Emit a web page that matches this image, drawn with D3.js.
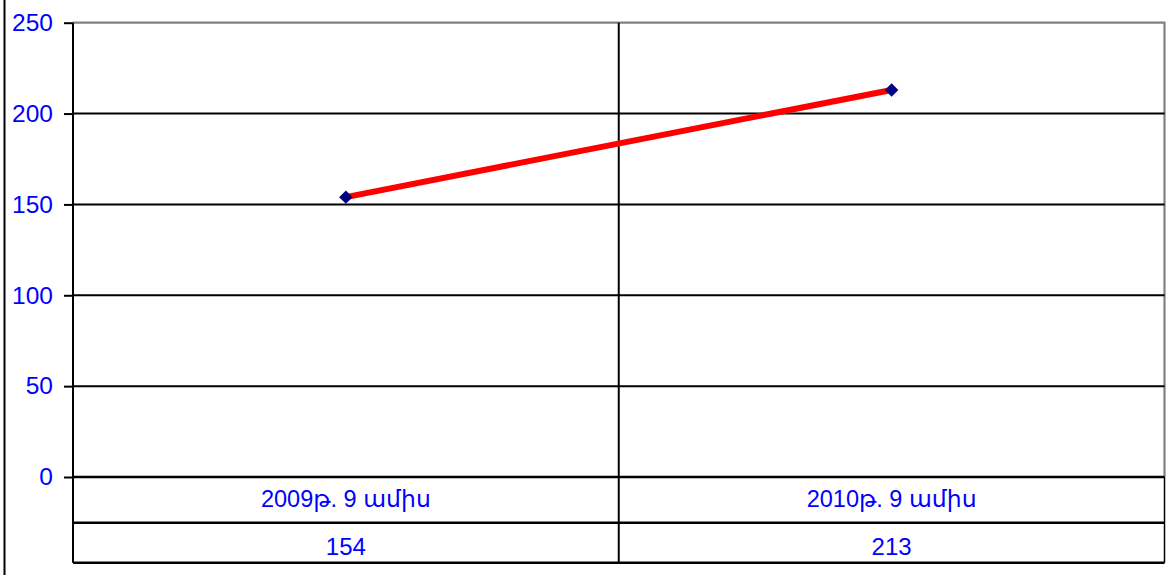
<!DOCTYPE html>
<html><head><meta charset="utf-8">
<script src="https://cdn.jsdelivr.net/npm/d3@7"></script>
<style>body{margin:0;background:#fff}svg{display:block}</style>
</head><body><svg id="c" width="1166" height="575"></svg>
<script>
const categories = ["2009թ. 9 ամիս", "2010թ. 9 ամիս"];
const values = [154, 213];
const yTicks = [0, 50, 100, 150, 200, 250];

const svg = d3.select("#c");
const L = 73, R = 1164.5, T = 22.7, B = 477;
const rowTops = [477, 522.7, 562.7];
const font = "'Liberation Sans', Arial, 'DejaVu Sans', sans-serif";
const blue = "#0000FF";

const x = d3.scaleBand().domain(categories).range([L, R]);
const y = d3.scaleLinear().domain([0, 250]).range([B, T]);

// outer left border
svg.append("line").attr("x1", 4.5).attr("x2", 4.5).attr("y1", 0).attr("y2", 575)
  .attr("stroke", "#000").attr("stroke-width", 2);

// plot area border (gray top & right)
svg.append("path").attr("d", `M${L},${T}H${R}V${B}`).attr("fill", "none")
  .attr("stroke", "#808080").attr("stroke-width", 2.2);

// horizontal gridlines
svg.append("g").selectAll("line").data(yTicks.filter(d => d > 0 && d < 250)).join("line")
  .attr("x1", L).attr("x2", R).attr("y1", d => y(d)).attr("y2", d => y(d))
  .attr("stroke", "#000").attr("stroke-width", 2);

// vertical category divider(s) through plot and table
svg.append("g").selectAll("line").data(categories.slice(1)).join("line")
  .attr("x1", d => x(d)).attr("x2", d => x(d)).attr("y1", T).attr("y2", rowTops[2])
  .attr("stroke", "#000").attr("stroke-width", 2);

// y axis
const yAxis = d3.axisLeft(y).tickValues(yTicks).tickSize(9).tickPadding(11);
const ga = svg.append("g").attr("transform", `translate(${L},0)`).call(yAxis);
ga.select(".domain").attr("stroke", "#000").attr("stroke-width", 2).attr("d", `M0,${T}V${rowTops[2]}`);
ga.selectAll(".tick line").attr("stroke", "#000").attr("stroke-width", 2);
ga.selectAll(".tick text").attr("fill", blue).attr("font-size", 24.5).attr("font-family", font);

// table horizontal lines
svg.append("g").selectAll("line").data(rowTops).join("line")
  .attr("x1", L).attr("x2", R).attr("y1", d => d).attr("y2", d => d)
  .attr("stroke", "#000").attr("stroke-width", 2.4);
svg.append("line").attr("x1", R).attr("x2", R).attr("y1", B).attr("y2", rowTops[2])
  .attr("stroke", "#000").attr("stroke-width", 1.5);

// table texts
const cx = d => x(d) + x.bandwidth() / 2;
svg.append("g").selectAll("text").data(categories).join("text")
  .attr("x", cx).attr("y", rowTops[0] + 30).attr("text-anchor", "middle")
  .attr("fill", blue).attr("font-size", 23.5).attr("font-family", font).text(d => d);
svg.append("g").selectAll("text").data(values).join("text")
  .attr("x", (d, i) => cx(categories[i])).attr("y", rowTops[1] + 32.5).attr("text-anchor", "middle")
  .attr("fill", blue).attr("font-size", 24).attr("font-family", font).text(d => d);

// line
const line = d3.line().x((d, i) => cx(categories[i])).y(d => y(d));
svg.append("path").datum(values).attr("d", line).attr("fill", "none")
  .attr("stroke", "#FF0000").attr("stroke-width", 6);

// markers
svg.append("g").selectAll("path").data(values).join("path")
  .attr("transform", (d, i) => `translate(${cx(categories[i])},${y(d)})`)
  .attr("d", d3.symbol().type(d3.symbolDiamond2).size(115))
  .attr("fill", "#000080");
</script></body></html>
